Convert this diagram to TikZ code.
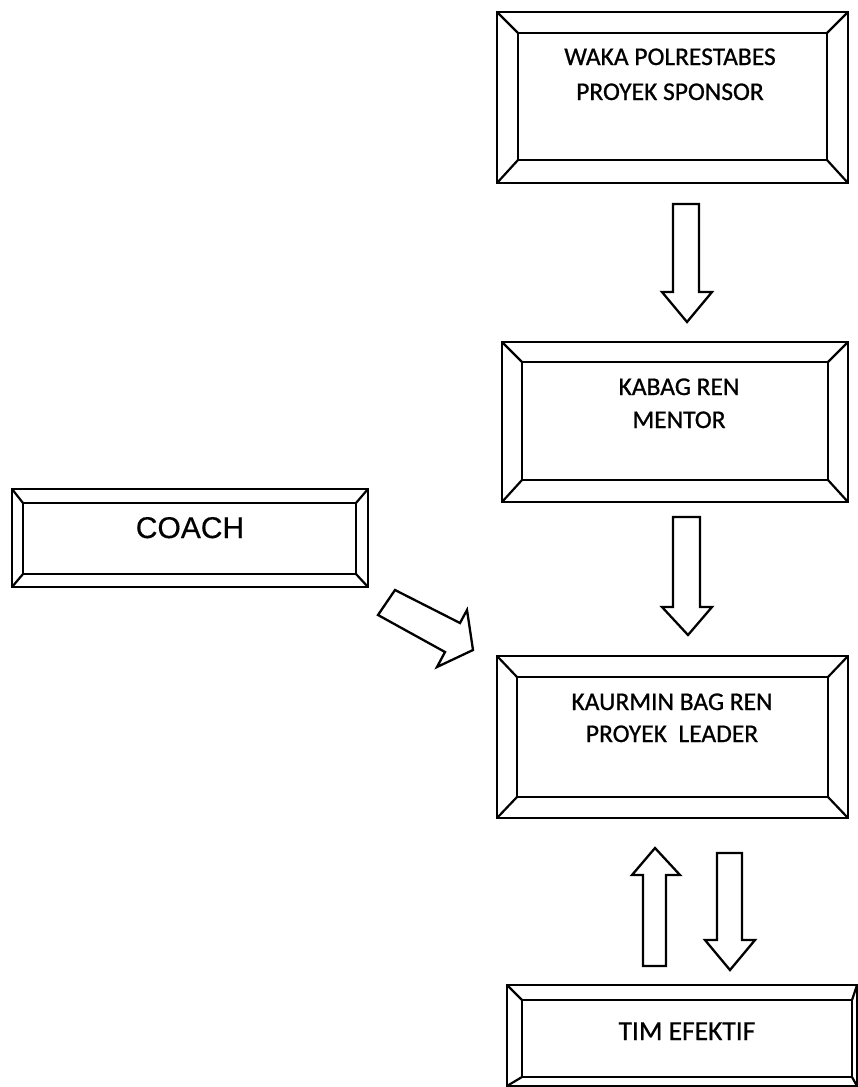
\documentclass[tikz,border=0pt]{standalone}
\usepackage{fontspec}
\newfontfamily\boxfont[FakeBold=0.8]{Carlito}
\newfontfamily\coachfont[FakeBold=0.4]{Liberation Sans}
\newcommand\bevelframe[5]{%
  \draw[bev] ([shift={(#2,#3)}]#1.north west) coordinate (#1IA)
    -- ([shift={(-#4,#3)}]#1.north east) coordinate (#1IB)
    -- ([shift={(-#4,-#5)}]#1.south east) coordinate (#1IC)
    -- ([shift={(#2,-#5)}]#1.south west) coordinate (#1ID) -- cycle;
  \draw[bev] (#1.north west) -- (#1IA) (#1.north east) -- (#1IB)
    (#1.south east) -- (#1IC) (#1.south west) -- (#1ID);
}
\begin{document}
\begin{tikzpicture}[x=1bp,y=-1bp,
  frame/.style={draw=black,line width=2.7bp,inner sep=0pt,outer sep=0pt,fill=white,rectangle},
  bev/.style={draw=black,line width=2.2bp,line join=miter},
  blockarrow/.style={draw=black,line width=2.3bp,fill=white,line join=miter},
  lbl/.style={font=\boxfont\fontsize{25.5bp}{30bp}\selectfont,anchor=base,inner sep=0pt},
  lblbig/.style={font=\boxfont\fontsize{27.5bp}{32bp}\selectfont,anchor=base,inner sep=0pt},
  lblcoach/.style={font=\coachfont\fontsize{30bp}{34bp}\selectfont,anchor=base,inner sep=0pt}]
\useasboundingbox[fill=white] (0,0) rectangle (858,1087);

% boxes
\node[frame,minimum width=351bp,minimum height=171bp] (waka) at (672.5,97.5) {};
\bevelframe{waka}{21}{21}{21}{23}
\node[frame,minimum width=346bp,minimum height=160bp] (kabag) at (675,422) {};
\bevelframe{kabag}{20}{20}{20}{22}
\node[frame,minimum width=351bp,minimum height=162bp] (kaur) at (672.5,737) {};
\bevelframe{kaur}{20}{21}{20}{21}
\node[frame,minimum width=356bp,minimum height=98bp] (coach) at (190,538) {};
\bevelframe{coach}{11}{14}{12}{13}
\node[frame,minimum width=350bp,minimum height=101bp] (tim) at (682,1035.5) {};
\bevelframe{tim}{15}{15}{5}{9}

% texts
\node[lbl] (wakaT1) at (670,65) {WAKA POLRESTABES};
\node[lbl] (wakaT2) at (670,100) {PROYEK SPONSOR};
\node[lbl] (kabagT1) at (679,395) {KABAG REN};
\node[lbl] (kabagT2) at (679,428) {MENTOR};
\node[lbl] (kaurT1) at (672,710) {KAURMIN BAG REN};
\node[lbl] (kaurT2) at (672,742) {PROYEK\ \ LEADER};
\node[lblbig] (timT) at (687,1040) {TIM EFEKTIF};
\node[lblcoach] (coachT) at (190,538) {COACH};

% block arrows
\draw[blockarrow] (673,204) -- (699,204) -- (699,292) -- (712,292) -- (687,322) -- (662,292) -- (673,292) -- cycle;
\draw[blockarrow] (673,517) -- (700,517) -- (700,607) -- (712,607) -- (688,635) -- (662,607) -- (673,607) -- cycle;
\draw[blockarrow] (655,848) -- (680,875) -- (666,875) -- (666,966) -- (643,966) -- (643,875) -- (632,875) -- cycle;
\draw[blockarrow] (717,853) -- (742,853) -- (742,940) -- (755,940) -- (730,970) -- (705,940) -- (717,940) -- cycle;
\draw[blockarrow] (395,590) -- (460,623) -- (467,610) -- (473,650) -- (437,667) -- (445,652) -- (378,615) -- cycle;
\end{tikzpicture}
\end{document}
